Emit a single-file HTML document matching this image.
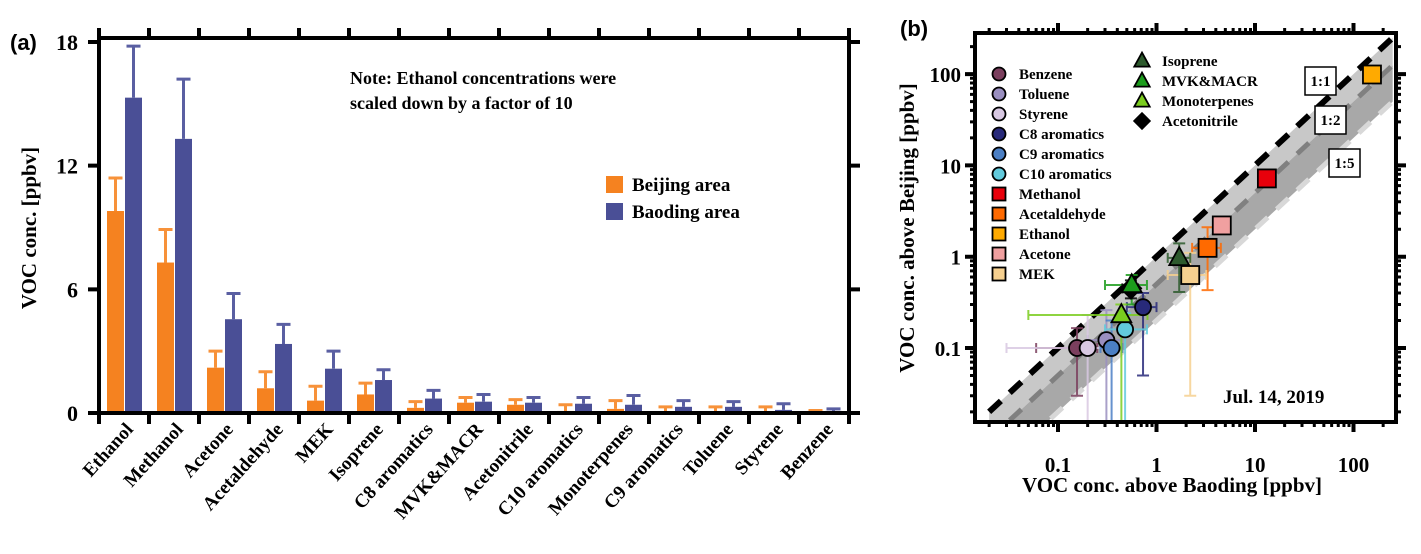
<!DOCTYPE html>
<html><head><meta charset="utf-8"><style>
html,body{margin:0;padding:0;background:#fff;}
svg{display:block;font-family:"Liberation Serif",serif;font-weight:bold;}
</style></head><body>
<svg id="c" width="1421" height="554" viewBox="0 0 1421 554" xmlns="http://www.w3.org/2000/svg"></svg>
<script>
// ---------- Panel (a) data ----------
const categories = ["Ethanol","Methanol","Acetone","Acetaldehyde","MEK","Isoprene","C8 aromatics","MVK&MACR","Acetonitrile","C10 aromatics","Monoterpenes","C9 aromatics","Toluene","Styrene","Benzene"];
const beijingVals = [9.8,7.3,2.2,1.2,0.6,0.9,0.25,0.5,0.4,0.1,0.2,0.05,0.05,0.05,0.1];
const beijingErr  = [11.4,8.9,3.0,2.0,1.3,1.45,0.55,0.75,0.65,0.4,0.6,0.3,0.3,0.3,0.12];
const baodingVals = [15.3,13.3,4.55,3.35,2.15,1.6,0.7,0.55,0.5,0.45,0.4,0.3,0.3,0.15,0.1];
const baodingErr  = [17.8,16.2,5.8,4.3,3.0,2.1,1.1,0.9,0.75,0.75,0.85,0.6,0.55,0.45,0.2];
const yTicksA = [0,6,12,18];

// ---------- Panel (b) data ----------
const species = ["Benzene","Toluene","Styrene","C8 aromatics","C9 aromatics","C10 aromatics","Methanol","Acetaldehyde","Ethanol","Acetone","MEK","Isoprene","MVK&MACR","Monoterpenes","Acetonitrile"];
const markers = ["circle","circle","circle","circle","circle","circle","square","square","square","square","square","triangle","triangle","triangle","diamond"];
const colors = ["#7b3f5e","#9a8fc0","#d8c8e2","#282a7a","#4b7fc4","#62cadc","#e8000b","#ff6a00","#ffaa00","#f0a0a0","#f6d08f","#2d5a2d","#1c9c1c","#7acc1e","#000000"];
const xBaoding = [0.156,0.31,0.2,0.73,0.35,0.48,13.2,3.3,154,4.6,2.2,1.7,0.56,0.44,0.55];
const yBeijing = [0.1,0.122,0.1,0.28,0.1,0.16,7.2,1.25,99,2.2,0.63,0.97,0.49,0.23,0.45];
const xLo = [0.06,0.2,0.03,0.5,0.27,0.3,12,2.3,150,4,1.3,1.3,0.3,0.05,0.45];
const xHi = [0.25,0.45,0.35,1.0,0.45,0.8,14.5,4.5,160,5.2,3.2,2.2,0.8,0.81,0.65];
const yLo = [0.03,0.01,0.01,0.05,0.01,0.01,6.5,0.43,95,1.9,0.03,0.41,0.3,0.01,0.35];
const yHi = [0.165,0.26,0.23,0.4,0.2,0.24,8,2.1,103,2.6,1.1,1.4,0.63,0.3,0.55];
const xTicksB = [0.1,1,10,100];
const yTicksB = [0.1,1,10,100];
const ratios = [1,0.5,0.2];
const ratioLabels = ["1:1","1:2","1:5"];

const NS="http://www.w3.org/2000/svg";
const svg=document.getElementById('c');
function mk(tag,attrs,parent){const e=document.createElementNS(NS,tag);for(const k in attrs)e.setAttribute(k,attrs[k]);(parent||svg).appendChild(e);return e;}
function txt(s,attrs,parent){const e=mk('text',attrs,parent);e.textContent=s;return e;}

// ===== Panel a =====
const A={l:99,r:849,t:38,b:413,ymax:18};
const ya=v=>A.b-(v/A.ymax)*(A.b-42);
const gw=(A.r-A.l)/categories.length;
const ga=mk('g',{});


const pa=txt('(a)',{x:10,y:50,'font-family':'Liberation Sans, sans-serif','font-size':22,'font-weight':'bold'},ga);

categories.forEach((c,i)=>{
  const x0=A.l+i*gw;
  const bo=mk('rect',{x:x0+8,y:ya(beijingVals[i]),width:17,height:A.b-ya(beijingVals[i]),fill:'#f58220'},ga);
  
  const bb=mk('rect',{x:x0+26,y:ya(baodingVals[i]),width:17,height:A.b-ya(baodingVals[i]),fill:'#4a4f96'},ga);
  
  [[x0+16.5,beijingVals[i],beijingErr[i],'#f7923a'],[x0+34.5,baodingVals[i],baodingErr[i],'#5a5fa2']].forEach(([cx,v,e,col],k)=>{
    const eg=mk('path',{d:`M${cx},${ya(v)}V${ya(e)}M${cx-7},${ya(e)}H${cx+7}`,stroke:col,'stroke-width':3,fill:'none'},ga);
    
  });
  const lab=txt(c,{x:0,y:0,'font-size':19,'text-anchor':'end',transform:`translate(${x0+gw/2+10},${430}) rotate(-48)`},ga);
  
});
for(let i=0;i<=categories.length;i++){const x=A.l+i*gw;mk('path',{d:`M${x},${A.t}V${A.t-10}M${x},${A.b}V${A.b+11}`,stroke:'#000','stroke-width':4},ga);}
yTicksA.forEach(v=>{
  mk('path',{d:`M${A.l-11},${ya(v)}H${A.l}M${A.r},${ya(v)}H${A.r+11}`,stroke:'#000','stroke-width':4},ga);
  const t=txt(String(v),{x:78,y:ya(v)+8,'font-size':22,'text-anchor':'end'},ga);
  
});
const fa=mk('rect',{x:A.l,y:A.t,width:A.r-A.l,height:A.b-A.t,fill:'none',stroke:'#000','stroke-width':4},ga);

const yta=txt('VOC conc. [ppbv]',{x:0,y:0,'font-size':21,'text-anchor':'middle',transform:'translate(36,228) rotate(-90)'},ga);

const n1=txt('Note: Ethanol concentrations were',{x:350,y:84,'font-size':18},ga);

const n2=txt('scaled down by a factor of 10',{x:350,y:109,'font-size':18},ga);

[['Beijing area','#f58220',176],['Baoding area','#4a4f96',203]].forEach(([s,col,y],k)=>{
  const g=mk('g',{},ga);
  
  mk('rect',{x:606,y:y,width:17,height:17,fill:col},g);
  txt(s,{x:632,y:y+15,'font-size':19},g);
});

// ===== Panel b =====
const B={l:975,r:1396,t:33,b:422};
const lx=v=>1058+(Math.log10(v)+1)*98.5;
const ly=v=>348-(Math.log10(v)+1)*91.3;
const gb=mk('g',{});

const pb=txt('(b)',{x:900,y:36,'font-family':'Liberation Sans, sans-serif','font-size':22,'font-weight':'bold'},gb);

const cp=mk('clipPath',{id:'cb'},gb);
mk('rect',{x:B.l,y:B.t,width:B.r-B.l,height:B.b-B.t},cp);
const inner=mk('g',{'clip-path':'url(#cb)'},gb);
const x0b=0.02,x1b=250;
const band=(ra,rb,col)=>mk('polygon',{points:`${lx(x0b)},${ly(x0b*ra)} ${lx(x1b)},${ly(x1b*ra)} ${lx(x1b)},${ly(x1b*rb)} ${lx(x0b)},${ly(x0b*rb)}`,fill:col},inner);
const b1=band(ratios[0],ratios[1],'#c8c8c8');
const b2=band(ratios[1],ratios[2],'#a8a8a8');
const lineCols=['#000','#808080','#d8d8d8'];
ratios.forEach((r,k)=>{
  const l=mk('line',{x1:lx(x0b),y1:ly(x0b*r),x2:lx(x1b),y2:ly(x1b*r),stroke:lineCols[k],'stroke-width':k?5:6,'stroke-dasharray':'16 12'},inner);
  
});
species.forEach((s,i)=>{
  const cx=lx(xBaoding[i]),cy=ly(yBeijing[i]);
  const d=`M${lx(xLo[i])},${cy}H${lx(xHi[i])}M${lx(xLo[i])},${cy-5}v10M${lx(xHi[i])},${cy-5}v10M${cx},${ly(yLo[i])}V${ly(yHi[i])}M${cx-6},${ly(yLo[i])}h12M${cx-6},${ly(yHi[i])}h12`;
  const e=mk('path',{d,stroke:colors[i],'stroke-width':2,fill:'none',opacity:0.85},inner);
  
});
function marker(type,cx,cy,col,sz,parent){
  let e;
  if(type==='circle')e=mk('circle',{cx,cy,r:sz,fill:col,stroke:'#000','stroke-width':1.8},parent);
  else if(type==='square')e=mk('rect',{x:cx-sz,y:cy-sz,width:2*sz,height:2*sz,fill:col,stroke:'#000','stroke-width':1.8},parent);
  else if(type==='triangle')e=mk('polygon',{points:`${cx},${cy-sz*1.2} ${cx+sz*1.1},${cy+sz*0.8} ${cx-sz*1.1},${cy+sz*0.8}`,fill:col,stroke:'#000','stroke-width':1.8},parent);
  else e=mk('polygon',{points:`${cx},${cy-sz*1.2} ${cx+sz*1.2},${cy} ${cx},${cy+sz*1.2} ${cx-sz*1.2},${cy}`,fill:col,stroke:'#000','stroke-width':1},parent);
  return e;
}
const order=[14,0,2,1,4,5,3,13,12,11,10,7,9,6,8];
order.forEach(i=>{
  const m=marker(markers[i],lx(xBaoding[i]),ly(yBeijing[i]),colors[i],markers[i]==='circle'?8:9,inner);
  
  
});
for(let dec=-2;dec<=2;dec++){for(let m=1;m<=9;m++){const v=m*Math.pow(10,dec);
  const L=m===1?10:5;
  if(lx(v)>B.l+1&&lx(v)<B.r-1)mk('path',{d:`M${lx(v)},${B.b}v${L}M${lx(v)},${B.t}v${-L}`,stroke:'#000','stroke-width':m===1?4:3},gb);
  if(ly(v)>B.t+1&&ly(v)<B.b-1)mk('path',{d:`M${B.l},${ly(v)}h${-L}M${B.r},${ly(v)}h${L}`,stroke:'#000','stroke-width':m===1?4:3},gb);
}}
xTicksB.forEach(v=>{const t=txt(String(v),{x:lx(v),y:472,'font-size':21,'text-anchor':'middle'},gb);});
yTicksB.forEach(v=>{const t=txt(String(v),{x:961,y:ly(v)+8,'font-size':21,'text-anchor':'end'},gb);});
const fb=mk('rect',{x:B.l,y:B.t,width:B.r-B.l,height:B.b-B.t,fill:'none',stroke:'#000','stroke-width':4},gb);

const xtb=txt('VOC conc. above Baoding [ppbv]',{x:1172,y:492,'font-size':21,'text-anchor':'middle'},gb);

const ytb=txt('VOC conc. above Beijing [ppbv]',{x:0,y:0,'font-size':21,'text-anchor':'middle',transform:'translate(914,228) rotate(-90)'},gb);

[[1305,67],[1315,106],[1329,149]].forEach(([x,y],k)=>{
  const g=mk('g',{},gb);
  
  mk('rect',{x,y,width:31,height:28,fill:'#fff',stroke:'#000','stroke-width':1.5},g);
  txt(ratioLabels[k],{x:x+15.5,y:y+19,'font-size':15,'text-anchor':'middle'},g);
});
const dt=txt('Jul. 14, 2019',{x:1223,y:403,'font-size':19},gb);

const leg1=[0,1,2,3,4,5,6,7,8,9,10],leg2=[11,12,13,14];
leg1.forEach((i,k)=>{const g=mk('g',{},gb);
  marker(markers[i],999,74+k*20,colors[i],6.5,g);txt(species[i],{x:1019,y:79+k*20,'font-size':15},g);});
leg2.forEach((i,k)=>{const g=mk('g',{},gb);
  marker(markers[i],1142,61+k*20,colors[i],7,g);txt(species[i],{x:1162,y:66+k*20,'font-size':15},g);});
</script>
</body></html>
